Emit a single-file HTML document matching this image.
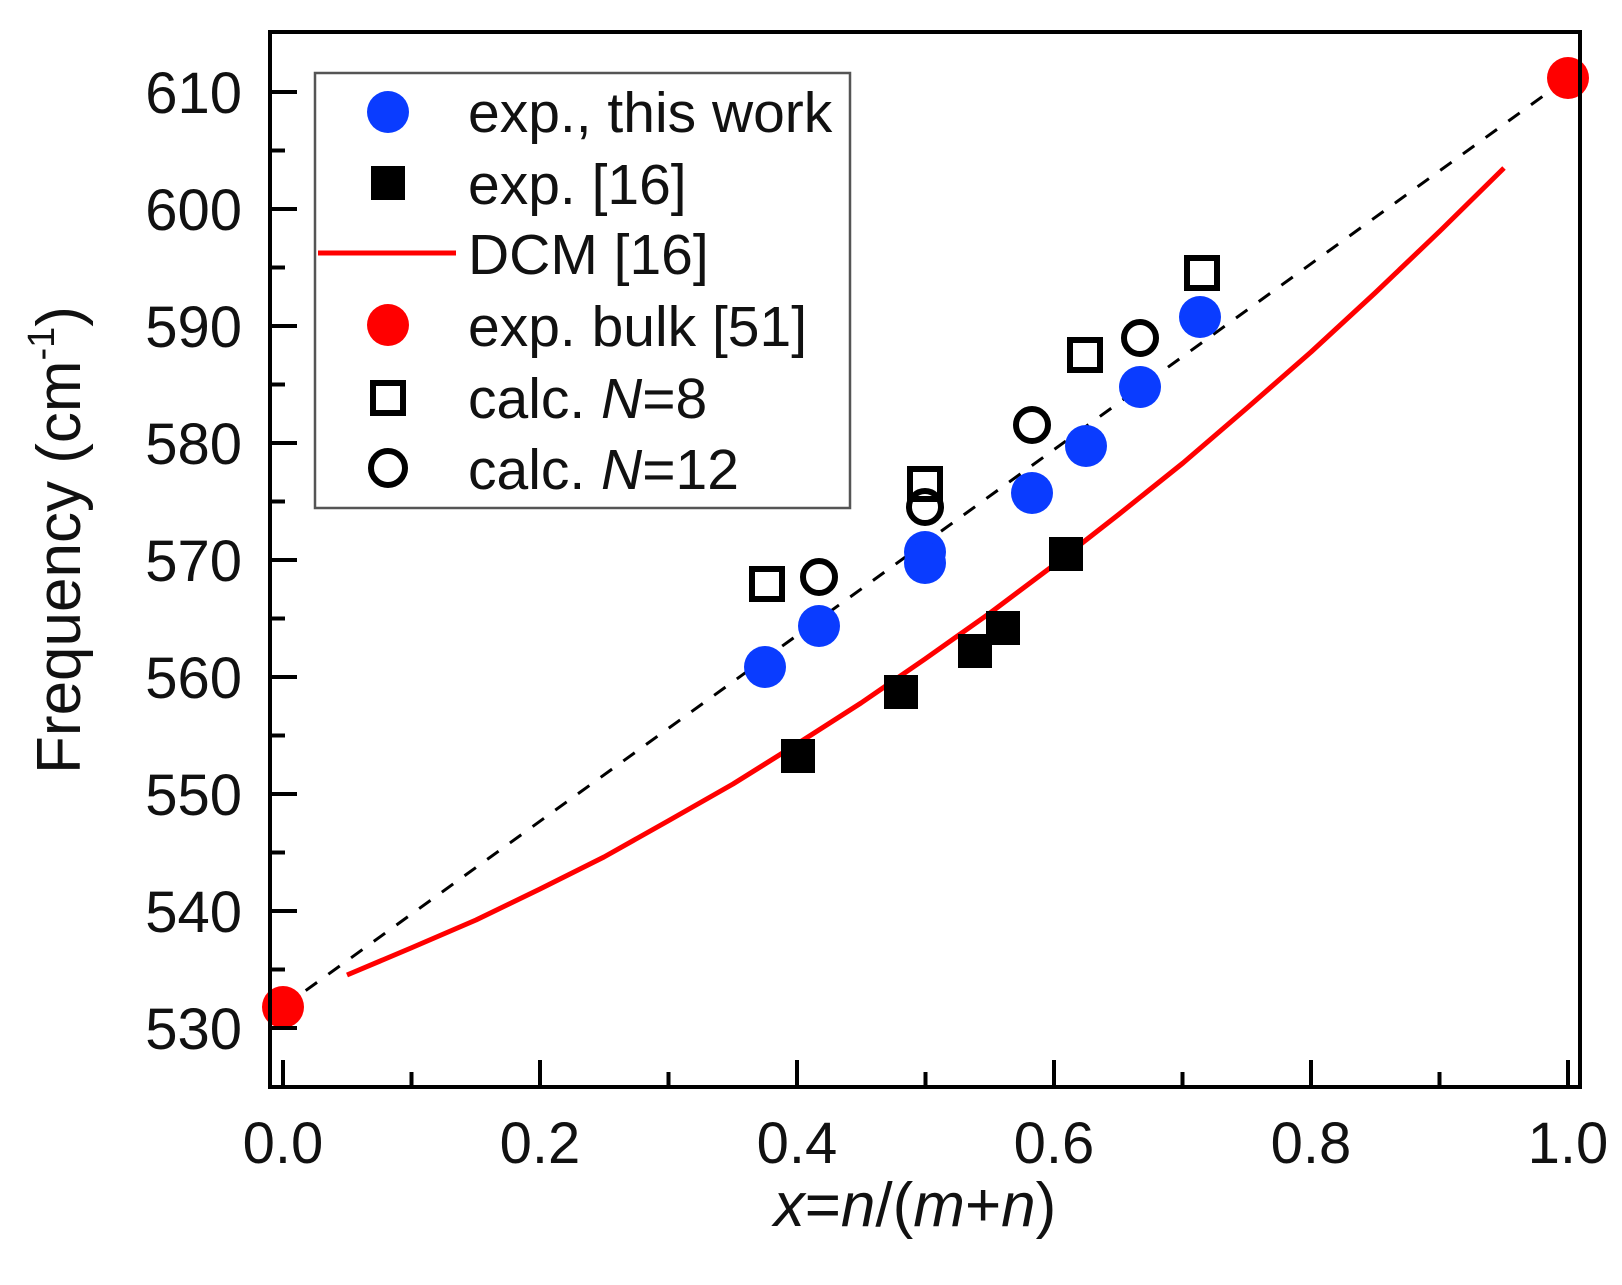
<!DOCTYPE html>
<html><head><meta charset="utf-8"><style>
html,body{margin:0;padding:0;background:#fff;}
svg text{font-family:"Liberation Sans",Arial,sans-serif;fill:#111;}
</style></head><body>
<svg width="1622" height="1280" viewBox="0 0 1622 1280" xmlns="http://www.w3.org/2000/svg">
<line x1="283" y1="1007" x2="1568" y2="78" stroke="#000" stroke-width="3" stroke-dasharray="14,14"/>
<polyline fill="none" stroke="#f00" stroke-width="5" stroke-linejoin="round" points="347,975 411,948 476,920 540,889 604,857 668,821 733,784 797,744 861,703 925,659 990,613 1054,565 1118,515 1183,463 1247,408 1311,352 1375,293 1440,231 1504,168"/>
<g fill="#f00">
<circle cx="283" cy="1007" r="21"/>
<circle cx="1568" cy="78" r="21"/>
</g>
<g fill="none" stroke="#000" stroke-width="6">
<rect x="752" y="569" width="30" height="30"/>
<rect x="910" y="469" width="30" height="30"/>
<rect x="1070" y="340" width="30" height="30"/>
<rect x="1187" y="258" width="30" height="30"/>
<circle cx="819" cy="577" r="16"/>
<circle cx="925" cy="507" r="16"/>
<circle cx="1032" cy="425" r="16"/>
<circle cx="1140" cy="338" r="16"/>
</g>
<g fill="#0a3cff">
<circle cx="765" cy="667" r="21"/>
<circle cx="819" cy="626" r="21"/>
<circle cx="925" cy="552" r="21"/>
<circle cx="925" cy="563" r="21"/>
<circle cx="1032" cy="493" r="21"/>
<circle cx="1086" cy="446" r="21"/>
<circle cx="1140" cy="387" r="21"/>
<circle cx="1200" cy="317" r="21"/>
</g>
<g fill="#000">
<rect x="781" y="739" width="34" height="34"/>
<rect x="884" y="675" width="34" height="34"/>
<rect x="958" y="634" width="34" height="34"/>
<rect x="986" y="611" width="34" height="34"/>
<rect x="1049" y="537" width="34" height="34"/>
</g>
<rect x="270" y="32" width="1310" height="1055" fill="none" stroke="#000" stroke-width="4"/>
<g stroke="#000" stroke-width="4">
<line x1="283" y1="1087" x2="283" y2="1060"/><line x1="411.5" y1="1087" x2="411.5" y2="1072"/>
<line x1="540" y1="1087" x2="540" y2="1060"/><line x1="668.5" y1="1087" x2="668.5" y2="1072"/>
<line x1="797" y1="1087" x2="797" y2="1060"/><line x1="925.5" y1="1087" x2="925.5" y2="1072"/>
<line x1="1054" y1="1087" x2="1054" y2="1060"/><line x1="1182.5" y1="1087" x2="1182.5" y2="1072"/>
<line x1="1311" y1="1087" x2="1311" y2="1060"/><line x1="1439.5" y1="1087" x2="1439.5" y2="1072"/>
<line x1="1568" y1="1087" x2="1568" y2="1060"/>
<line x1="270" y1="1028" x2="297" y2="1028"/><line x1="270" y1="969.5" x2="285" y2="969.5"/>
<line x1="270" y1="911" x2="297" y2="911"/><line x1="270" y1="852.5" x2="285" y2="852.5"/>
<line x1="270" y1="794" x2="297" y2="794"/><line x1="270" y1="735.5" x2="285" y2="735.5"/>
<line x1="270" y1="677" x2="297" y2="677"/><line x1="270" y1="618.5" x2="285" y2="618.5"/>
<line x1="270" y1="560" x2="297" y2="560"/><line x1="270" y1="501.5" x2="285" y2="501.5"/>
<line x1="270" y1="443" x2="297" y2="443"/><line x1="270" y1="384.5" x2="285" y2="384.5"/>
<line x1="270" y1="326" x2="297" y2="326"/><line x1="270" y1="267.5" x2="285" y2="267.5"/>
<line x1="270" y1="209" x2="297" y2="209"/><line x1="270" y1="150.5" x2="285" y2="150.5"/>
<line x1="270" y1="92" x2="297" y2="92"/>
</g>
<g font-size="58" text-anchor="end">
<text x="242" y="1049">530</text><text x="242" y="932">540</text><text x="242" y="815">550</text>
<text x="242" y="698">560</text><text x="242" y="581">570</text><text x="242" y="464">580</text>
<text x="242" y="347">590</text><text x="242" y="230">600</text><text x="242" y="113">610</text>
</g>
<g font-size="58" text-anchor="middle">
<text x="283" y="1163">0.0</text><text x="540" y="1163">0.2</text><text x="797" y="1163">0.4</text>
<text x="1054" y="1163">0.6</text><text x="1311" y="1163">0.8</text><text x="1568" y="1163">1.0</text>
</g>
<text x="915" y="1226" font-size="62" text-anchor="middle"><tspan font-style="italic">x</tspan>=<tspan font-style="italic">n</tspan>/(<tspan font-style="italic">m</tspan>+<tspan font-style="italic">n</tspan>)</text>
<text transform="translate(80,540) rotate(-90)" font-size="62" text-anchor="middle">Frequency (cm<tspan font-size="38" dy="-26">-1</tspan><tspan dy="26">)</tspan></text>
<rect x="315" y="73" width="535" height="435" fill="#fff" stroke="#555" stroke-width="2.5"/>
<circle cx="388" cy="112" r="21" fill="#0a3cff"/>
<rect x="371" y="166" width="34" height="34" fill="#000"/>
<line x1="318" y1="253" x2="456" y2="253" stroke="#f00" stroke-width="5"/>
<circle cx="388" cy="325" r="21" fill="#f00"/>
<rect x="373" y="383" width="30" height="30" fill="none" stroke="#000" stroke-width="6"/>
<circle cx="388" cy="468" r="17" fill="none" stroke="#000" stroke-width="6"/>
<g font-size="57">
<text x="468" y="132">exp., this work</text>
<text x="468" y="204">exp. [16]</text>
<text x="468" y="274">DCM [16]</text>
<text x="468" y="346">exp. bulk [51]</text>
<text x="468" y="418">calc. <tspan font-style="italic">N</tspan>=8</text>
<text x="468" y="489">calc. <tspan font-style="italic">N</tspan>=12</text>
</g>
</svg>
</body></html>
